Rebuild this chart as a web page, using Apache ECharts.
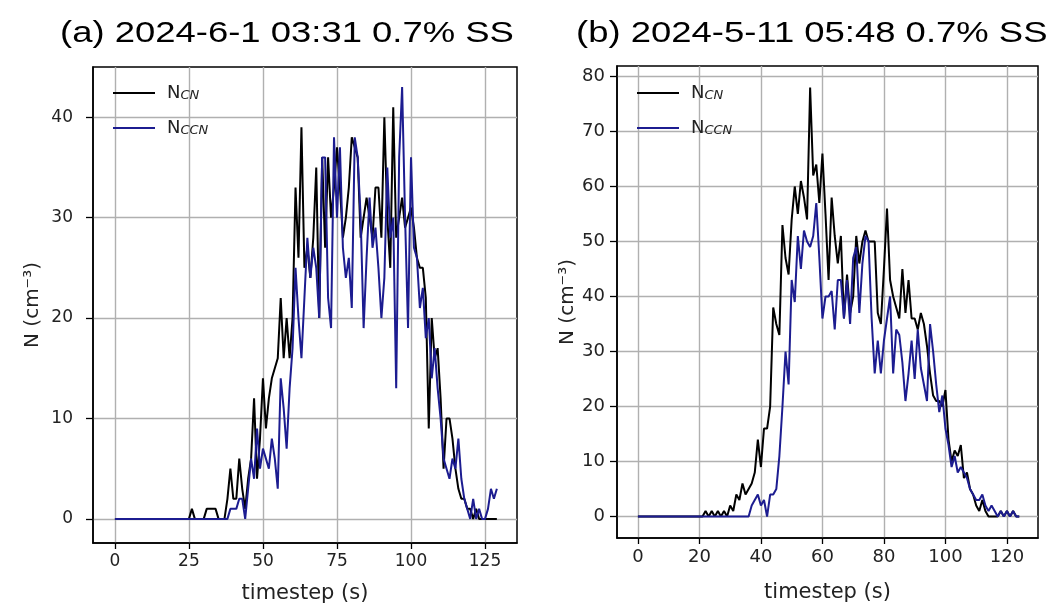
<!DOCTYPE html>
<html><head><meta charset="utf-8">
<script src="https://cdn.jsdelivr.net/npm/echarts@6/dist/echarts.min.js"></script>
<style>html,body{margin:0;padding:0;background:#fff}#c{width:1051px;height:608px}</style>
</head><body><div id="c"></div>
<script>
// Panel (a): 2024-6-1 03:31, one value per second, t = 0..129
const cnA = [0,0,0,0,0,0,0,0,0,0, 0,0,0,0,0,0,0,0,0,0, 0,0,0,0,0,0,
  1,0,0,0,0,
  1,1,1,1,0,0,0,
  2,5,2,2,6,3,1,4,6,12,
  4,8,14,9,12,14,15,16,22,16,
  20,16,20,33,26,39,25,27,24,28,
  35,20,36,27,36,30,33,37,33,28,
  30,33,38,37,36,28,30,32,30,28,
  33,33,28,40,30,25,41,28,30,32,
  29,30,31,29,26,25,25,22,9,20,
  16,17,12,5,10,10,8,5,3,2,
  2,1,1,0,1,0,0,0,0,0,
  0,0];
const ccnA = [0,0,0,0,0,0,0,0,0,0, 0,0,0,0,0,0,0,0,0,0, 0,0,0,0,0,0,0,0,0,0, 0,0,0,0,0,0,0,0,0,
  1,1,1,2,2,
  0,3,6,4,9,5,7,6,5,8,
  6,3,14,11,7,13,17,25,20,16,
  22,28,24,27,25,20,36,36,22,19,
  38,30,37,27,24,26,21,38,36,30,
  19,26,32,27,29,25,20,24,35,28,
  30,13,36,43,30,19,36,27,26,21,
  23,18,20,14,17,13,10,6,5,4,
  6,5,8,4,2,1,0,2,0,1,
  0,0,1,3,2,3];
// Panel (b): 2024-5-11 05:48, t = 0..124
const cnB = [0,0,0,0,0,0,0,0,0,0, 0,0,0,0,0,0,0,0,0,0, 0,0,
  1,0,1,0,1,0,1,0,2,1,
  4,3,6,4,5,6,8,14,9,16,
  16,20,38,35,33,53,47,44,54,60,
  55,61,58,54,78,62,64,57,66,55,
  43,58,51,46,51,36,44,37,40,51,
  46,50,52,50,50,50,37,35,45,56,
  43,40,38,36,45,37,43,36,36,34,
  37,35,31,26,22,21,21,20,23,14,
  10,12,11,13,7,8,5,4,2,1,
  3,1,0,0,0,0,1,0,1,0,
  1,0,0];
const ccnB = [0,0,0,0,0,0,0,0,0,0, 0,0,0,0,0,0,0,0,0,0, 0,0,0,0,0,0,0,0,0,0, 0,0,0,0,0,0,0,
  2,3,4,2,3,0,4,4,5,11,
  20,30,24,43,39,51,45,52,50,49,
  51,57,47,36,40,40,41,34,43,43,
  36,43,35,47,49,37,46,51,50,36,
  26,32,26,32,36,40,26,34,33,28,
  21,26,32,25,34,27,24,21,35,30,
  24,19,22,16,13,9,11,8,9,8,
  7,5,4,3,3,4,2,1,2,1,
  0,1,0,1,0,1,0,0];

const xTicksA = [0,25,50,75,100,125];
const yTicksA = [0,10,20,30,40];
const xTicksB = [0,20,40,60,80,100,120];
const yTicksB = [0,10,20,30,40,50,60,70,80];
const titles = ['(a) 2024-6-1 03:31 0.7% SS', '(b) 2024-5-11 05:48 0.7% SS'];
const xName = 'timestep (s)';
const yName = 'N (cm\u207B\u00B3)';
const seriesNames = ['CN', 'CCN'];
const colors = {CN: '#000000', CCN: '#1c1c90'};

function pairs(arr) { return arr.map((v, i) => [i, v]); }

const FONT = 'DejaVu Sans';
function mkX(idx, ticks, min, max, fs, gap) {
  return {
    type: 'value', gridIndex: idx, min: min, max: max,
    axisLine: {show: true, onZero: false, lineStyle: {color: '#000', width: 1.5}},
    axisTick: {show: true, inside: false, length: 6, customValues: ticks, lineStyle: {color: '#000', width: 1.3}},
    axisLabel: {customValues: ticks, fontSize: fs, color: '#222', fontFamily: FONT, margin: 10},
    splitLine: {show: true, lineStyle: {color: '#b0b0b0', width: 1.4}},
    name: xName, nameLocation: 'middle', nameGap: gap,
    nameTextStyle: {fontSize: 21, fontFamily: FONT, color: '#222'}
  };
}
function mkY(idx, ticks, min, max, fs, margin, gap) {
  return {
    type: 'value', gridIndex: idx, min: min, max: max,
    axisLine: {show: true, onZero: false, lineStyle: {color: '#000', width: 1.5}},
    axisTick: {show: true, inside: false, length: 7, customValues: ticks, lineStyle: {color: '#000', width: 1.3}},
    axisLabel: {customValues: ticks, fontSize: fs, color: '#222', fontFamily: FONT, margin: margin},
    splitLine: {show: true, lineStyle: {color: '#b0b0b0', width: 1.4}},
    name: yName, nameLocation: 'middle', nameGap: gap, nameRotate: 90,
    nameTextStyle: {fontSize: 20, fontFamily: FONT, color: '#222'}
  };
}
function mkLegend(left, top) {
  return {
    data: seriesNames, orient: 'vertical', left: left, top: top,
    icon: 'rect', itemWidth: 42, itemHeight: 2.2, itemGap: 17,
    formatter: n => '{n|N}{s|' + n + '}',
    textStyle: {
      padding: [0, 0, 0, 7],
      rich: {
        n: {fontSize: 18, fontFamily: FONT, color: '#222'},
        s: {fontSize: 13, fontStyle: 'italic', fontFamily: FONT, color: '#222', padding: [5, 0, 0, 0]}
      }
    }
  };
}
function mkSeries(name, arr, idx) {
  return {
    type: 'line', name: name, xAxisIndex: idx, yAxisIndex: idx,
    data: pairs(arr), symbol: 'none', showSymbol: false,
    lineStyle: {color: colors[name], width: 2},
    itemStyle: {color: colors[name]},
    z: name === 'CN' ? 2 : 3, animation: false
  };
}

const chart = echarts.init(document.getElementById('c'), null, {renderer: 'canvas'});
chart.setOption({
  animation: false,
  backgroundColor: '#fff',
  graphic: [
    {type: 'text', x: 60, y: 34, scaleX: 1.215, style: {text: titles[0], font: '30px "Liberation Sans"', fill: '#000', verticalAlign: 'middle', align: 'left'}},
    {type: 'text', x: 576, y: 34, scaleX: 1.215, style: {text: titles[1], font: '30px "Liberation Sans"', fill: '#000', verticalAlign: 'middle', align: 'left'}}
  ],
  grid: [
    {left: 93, top: 67, width: 424, height: 476, show: true, borderColor: '#000', borderWidth: 1.5, outerBoundsMode: 'none'},
    {left: 617, top: 66, width: 421, height: 472, show: true, borderColor: '#000', borderWidth: 1.5, outerBoundsMode: 'none'}
  ],
  xAxis: [mkX(0, xTicksA, -7.4, 135.8, 17, 40), mkX(1, xTicksB, -6.8, 130.1, 18, 44)],
  yAxis: [mkY(0, yTicksA, -2.4, 45, 17, 20, 50), mkY(1, yTicksB, -3.9, 81.9, 18, 12, 38)],
  legend: [mkLegend(108, 79), mkLegend(632, 79)],
  series: [
    mkSeries('CN', cnA, 0), mkSeries('CCN', ccnA, 0),
    mkSeries('CN', cnB, 1), mkSeries('CCN', ccnB, 1)
  ]
});
</script></body></html>
